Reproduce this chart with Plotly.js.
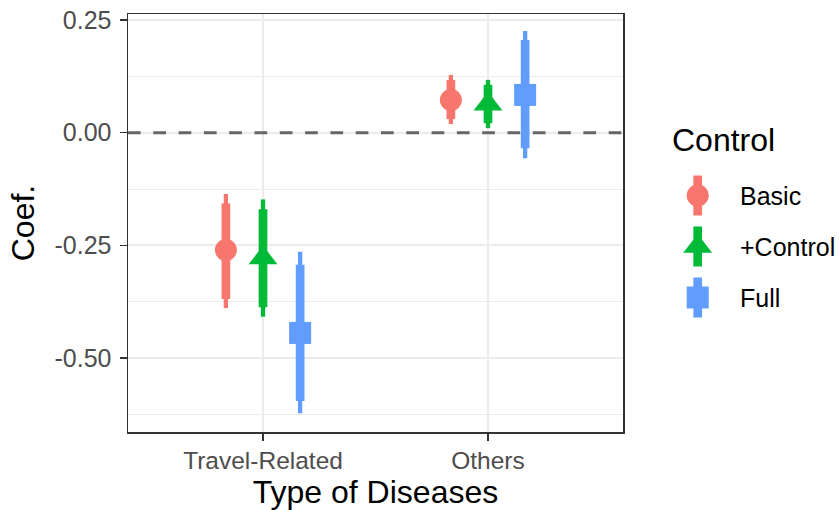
<!DOCTYPE html>
<html>
<head>
<meta charset="utf-8">
<script src="https://cdn.plot.ly/plotly-3.0.1.min.js"></script>
<style>
  html, body { margin: 0; padding: 0; background: #ffffff; }
  #chart { width: 839px; height: 510px; }
</style>
</head>
<body>
<div id="chart"></div>
<script>
// Regression coefficients by disease type, three model specifications.
const categories = ['Travel-Related', 'Others'];
const models = ['Basic', '+Control', 'Full'];

// rows follow `models`, columns follow `categories`
const estimates = [[-0.260, 0.0725], [-0.278, 0.063], [-0.444, 0.0836]];
const lower95 = [[-0.389, 0.019], [-0.408, 0.010], [-0.622, -0.057]];
const upper95 = [[-0.136, 0.128], [-0.148, 0.117], [-0.264, 0.2255]];
const lower90 = [[-0.369, 0.030], [-0.387, 0.021], [-0.595, -0.0346]];
const upper90 = [[-0.157, 0.117], [-0.170, 0.106], [-0.293, 0.2055]];

const yTickVals = [0.25, 0, -0.25, -0.5];
const yTickText = ['0.25', '0.00', '-0.25', '-0.50'];
const referenceLevel = 0;

// styling
const colors = ['#F8766D', '#00BA38', '#619CFF'];
const symbols = ['circle', 'triangle-up', 'square'];
const markerSizes = [22, 25, 22];
const FONT = '"Liberation Sans", Arial, Helvetica, sans-serif';
const dodge = 0.165;
const thinWidth = 4.3;
const thickWidth = 8.7;
const xRange = [0.4, 2.6];

// page geometry (px)
const W = 839, H = 510;
const M = { l: 128, r: 0, t: 14, b: 78 };
const panelRight = 623;
const plotW = W - M.l - M.r;
const mainDomainEnd = (panelRight - M.l) / plotW;

const traces = [];

// dashed reference line at zero, drawn first so the intervals sit on top
traces.push({
  type: 'scatter', mode: 'lines', x: xRange, y: [referenceLevel, referenceLevel],
  line: { color: '#666666', width: 3, dash: '12.7px,12.6px' },
  hoverinfo: 'skip', showlegend: false, xaxis: 'x', yaxis: 'y'
});

models.forEach((name, m) => {
  const xs = categories.map((c, i) => i + 1 + (m - 1) * dodge);
  const est = estimates[m];
  const errBar = (lo, hi, thick) => ({
    type: 'data', symmetric: false, visible: true,
    array: hi.map((v, i) => v - est[i]),
    arrayminus: lo.map((v, i) => est[i] - v),
    color: colors[m], thickness: thick, width: 0
  });
  // 95% interval (thin)
  traces.push({
    type: 'scatter', mode: 'markers', x: xs, y: est,
    marker: { size: 1, opacity: 0 },
    error_y: errBar(lower95[m], upper95[m], thinWidth),
    hoverinfo: 'skip', showlegend: false, xaxis: 'x', yaxis: 'y'
  });
  // 90% interval (thick)
  traces.push({
    type: 'scatter', mode: 'markers', x: xs, y: est,
    marker: { size: 1, opacity: 0 },
    error_y: errBar(lower90[m], upper90[m], thickWidth),
    hoverinfo: 'skip', showlegend: false, xaxis: 'x', yaxis: 'y'
  });
  // point estimate
  traces.push({
    type: 'scatter', mode: 'markers', x: xs, y: est, name: name,
    marker: { symbol: symbols[m], size: markerSizes[m], color: colors[m], line: { width: 0 } },
    hoverinfo: 'skip', showlegend: false, xaxis: 'x', yaxis: 'y'
  });
});

// hand-built legend on a pixel-scaled helper axis pair
const legendLeft = 640;
const keyX = 697.7;
const labelX = 738;
const titleX = 670;
const titleY = 140;
const firstKeyY = 195.5;
const keyStep = 51;
const keyHalf = 20;
const annotations = [];
models.forEach((name, m) => {
  const ky = firstKeyY + m * keyStep;
  traces.push({
    type: 'scatter', mode: 'markers', x: [keyX], y: [ky],
    marker: { symbol: symbols[m], size: markerSizes[m], color: colors[m], line: { width: 0 } },
    error_y: { type: 'constant', value: keyHalf, color: colors[m], thickness: thickWidth, width: 0 },
    hoverinfo: 'skip', showlegend: false, xaxis: 'x2', yaxis: 'y2'
  });
  annotations.push({
    xref: 'x2', yref: 'y2', x: labelX, y: ky, text: name, showarrow: false,
    xanchor: 'left', yanchor: 'middle', font: { family: FONT, size: 25, color: '#000000' }
  });
});
annotations.push({
  xref: 'x2', yref: 'y2', x: titleX, y: titleY, text: 'Control', showarrow: false,
  xanchor: 'left', yanchor: 'middle', font: { family: FONT, size: 32, color: '#000000' }
});

const layout = {
  width: W, height: H,
  margin: M,
  paper_bgcolor: '#ffffff', plot_bgcolor: '#ffffff',
  showlegend: false, hovermode: false,
  font: { family: FONT },
  xaxis: {
    domain: [0, mainDomainEnd],
    range: xRange,
    tickmode: 'array', tickvals: categories.map((c, i) => i + 1), ticktext: categories,
    showgrid: true, gridcolor: '#EBEBEB', gridwidth: 2,
    zeroline: false,
    showline: true, linecolor: '#333333', linewidth: 1.5, mirror: true,
    ticks: 'outside', ticklen: 7, tickwidth: 1.5, tickcolor: '#333333',
    tickfont: { family: FONT, size: 24.5, color: '#4D4D4D' },
    ticklabelstandoff: -1,
    title: { text: 'Type of Diseases', font: { family: FONT, size: 32, color: '#000000' }, standoff: 8 },
    automargin: false
  },
  yaxis: {
    range: [-0.6636, 0.263],
    tickmode: 'array', tickvals: yTickVals, ticktext: yTickText,
    showgrid: true, gridcolor: '#EBEBEB', gridwidth: 2,
    minor: { tickmode: 'linear', tick0: 0.125, dtick: 0.25, showgrid: true, gridcolor: '#EBEBEB', gridwidth: 1, ticks: '' },
    zeroline: false,
    showline: true, linecolor: '#333333', linewidth: 1.5, mirror: true,
    ticks: 'outside', ticklen: 7, tickwidth: 1.5, tickcolor: '#333333',
    tickfont: { family: FONT, size: 25, color: '#4D4D4D' },
    ticklabelstandoff: 3,
    title: { text: 'Coef.', font: { family: FONT, size: 32, color: '#000000' }, standoff: 10 },
    automargin: false
  },
  xaxis2: {
    domain: [(legendLeft - M.l) / plotW, 1], range: [legendLeft, W],
    visible: false, fixedrange: true
  },
  yaxis2: {
    anchor: 'x2', domain: [0, 1], range: [H - M.b, M.t],
    visible: false, fixedrange: true
  },
  annotations: annotations
};

Plotly.newPlot('chart', traces, layout, { staticPlot: true, displayModeBar: false });
</script>
</body>
</html>
